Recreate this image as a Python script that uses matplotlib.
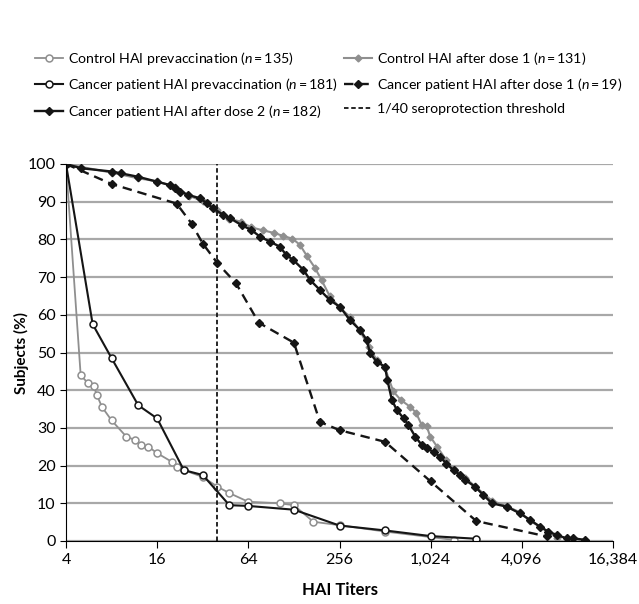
import matplotlib
matplotlib.use("Agg")
import matplotlib.pyplot as plt
import numpy as np

plt.rcParams['font.family'] = ['Lato', 'DejaVu Sans']
plt.rcParams['mathtext.fontset'] = 'custom'
plt.rcParams['mathtext.it'] = 'Lato:italic'
plt.rcParams['mathtext.rm'] = 'Lato'

# control HAI prevaccination (n=135)
ctrl_pre_x = [4, 5, 5.6, 6.1, 6.4, 6.9, 8, 10, 11.4, 12.6, 14, 16, 20, 21.5, 24,
              32, 40, 48, 64, 103, 128, 172, 256, 512, 1450]
ctrl_pre_y = [100, 44, 41.8, 41, 38.7, 35.6, 32, 27.7, 26.8, 25.5, 25, 23.3, 21, 19.7, 18.8,
              17, 14.4, 12.7, 10.4, 10, 9.5, 5.1, 4.2, 2.5, 0.3]

# cancer patient HAI prevaccination (n=181)
canc_pre_x = [4, 6, 8, 12, 16, 24, 32, 48, 64, 128, 256, 512, 1024, 2048]
canc_pre_y = [100, 57.5, 48.5, 36, 32.5, 18.8, 17.5, 9.5, 9.3, 8.3, 4.1, 2.8, 1.3, 0.6]

# cancer patient HAI after dose 2 (n=182)
canc_d2_x = [4, 5, 8, 9.3, 12, 16, 19.5, 21, 22.6, 25.7, 30.7, 34, 37.6, 43.7, 48.5,
             57.7, 67, 76.6, 89, 103, 114, 127, 148, 164, 190, 221, 258, 300, 349,
             388, 407, 450, 512, 530, 568, 613, 680, 730, 810, 893, 963, 1080, 1180,
             1300, 1450, 1600, 1730, 2010, 2280, 2600, 3260, 3990, 4640, 5400, 6130,
             6970, 8080, 8960, 10700]
canc_d2_y = [100, 98.9, 98, 97.5, 96.6, 95.3, 94.4, 93.6, 92.7, 91.8, 90.9, 89.6, 88.2, 86.5, 85.6,
             83.8, 82.5, 80.7, 79.4, 78.1, 75.9, 74.5, 71.9, 69.2, 66.6, 63.9, 62.1, 58.6, 56,
             53.3, 49.8, 47.6, 46.2, 42.7, 37.4, 34.7, 32.5, 30.8, 27.7, 25.5, 24.6, 23.5, 22.4,
             20.5, 18.8, 17.5, 16.2, 14.4, 12.2, 10, 9.1, 7.3, 5.6, 3.8, 2.5,
             1.6, 0.7, 0.7, 0.3]

# control HAI after dose 1 (n=131)
ctrl_d1_x = [4, 8, 12, 16, 21, 26, 32, 40, 48, 57, 67, 80, 95, 109, 125, 140, 156, 176,
             195, 221, 258, 300, 349, 400, 450, 512, 580, 650, 750, 820, 893, 963, 1017,
             1130, 1300, 1450, 1730, 2010, 2600, 3260, 3990, 4640, 5400, 6130, 7000]
ctrl_d1_y = [100, 97.7, 96.2, 95.4, 93.9, 91.6, 90.1, 87.8, 85.5, 84.7, 83.2, 82.4, 81.7, 80.9,
             80.2, 78.6, 75.6, 72.5, 69.2, 64.9, 61.8, 59.5, 55.7, 51.5, 48.1, 45.8, 39.7,
             37.4, 35.6, 34, 30.8, 30.5, 27.7, 25, 21.4, 19.1, 16.8, 14.5, 10.7, 9.2,
             7.6, 5.3, 3.8, 2.3, 0.8]

# cancer patient HAI after dose 1 (n=19)
canc_d1_x = [4, 8, 21.5, 27, 32, 40, 53, 75, 128, 190, 256, 512, 1024, 2048, 6000]
canc_d1_y = [100, 94.7, 89.5, 84.2, 78.9, 73.7, 68.4, 57.9, 52.6, 31.6, 29.4, 26.3, 15.8, 5.3, 1.2]

threshold = 40
xticks = [4, 16, 64, 256, 1024, 4096, 16384]

fig = plt.figure(figsize=(6.39, 6.04), dpi=100)
ax = fig.add_axes([66/639, 63/604, 547/639, 377/604])

gray = "#8f8f8f"
blk = "#151515"

l1, = ax.plot(ctrl_pre_x, ctrl_pre_y, color=gray, lw=1.3, marker="o", ms=5,
              mfc="white", mec=gray, mew=1.1,
              label="Control HAI prevaccination ($\\it{n}$\u2009=\u2009135)")
l4, = ax.plot(ctrl_d1_x, ctrl_d1_y, color=gray, lw=1.5, marker="D", ms=3.5,
              mfc=gray, mec=gray,
              label="Control HAI after dose 1 ($\\it{n}$\u2009=\u2009131)")
l2, = ax.plot(canc_pre_x, canc_pre_y, color=blk, lw=1.5, marker="o", ms=5,
              mfc="white", mec=blk, mew=1.1,
              label="Cancer patient HAI prevaccination ($\\it{n}$\u2009=\u2009181)")
l5, = ax.plot(canc_d1_x, canc_d1_y, color=blk, lw=1.7, ls=(0, (4, 2.5)), marker="D", ms=4.5,
              mfc=blk, mec=blk,
              label="Cancer patient HAI after dose 1 ($\\it{n}$\u2009=\u200919)")
l3, = ax.plot(canc_d2_x, canc_d2_y, color=blk, lw=1.7, marker="D", ms=4,
              mfc=blk, mec=blk,
              label="Cancer patient HAI after dose 2 ($\\it{n}$\u2009=\u2009182)")
l6 = ax.axvline(threshold, ymin=0, ymax=1, color=blk, lw=1.3, ls=(0, (2.5, 1.5)),
                label="1/40 seroprotection threshold")

ax.set_xscale("log", base=2)
ax.set_xlim(4, 16384)
ax.set_ylim(0, 100)
ax.set_xticks(xticks)
ax.set_xticklabels([f"{t:,}" for t in xticks], fontsize=11.5)
ax.minorticks_off()
ax.set_yticks(range(0, 101, 10))
ax.tick_params(axis="y", labelsize=11.5, length=4, direction="out")
ax.tick_params(axis="x", length=5, direction="out")
ax.yaxis.grid(True, color="#a8a8a8", lw=1.6)
ax.set_axisbelow(True)
ax.spines["top"].set_visible(False)
ax.spines["right"].set_visible(False)
ax.set_xlabel("HAI Titers", fontsize=12, fontweight="bold", labelpad=11)
ax.set_ylabel("Subjects (%)", fontsize=11, fontweight="bold", labelpad=-1)

fig.legend(handles=[l1, l2, l3, l4, l5, l6], ncol=2, loc="upper left",
           bbox_to_anchor=(0.055, 0.918), frameon=False, fontsize=10.2,
           borderpad=0, borderaxespad=0,
           handlelength=2.0, handletextpad=0.35, columnspacing=0.4, labelspacing=0.7)

fig.savefig("out.png", dpi=100)
